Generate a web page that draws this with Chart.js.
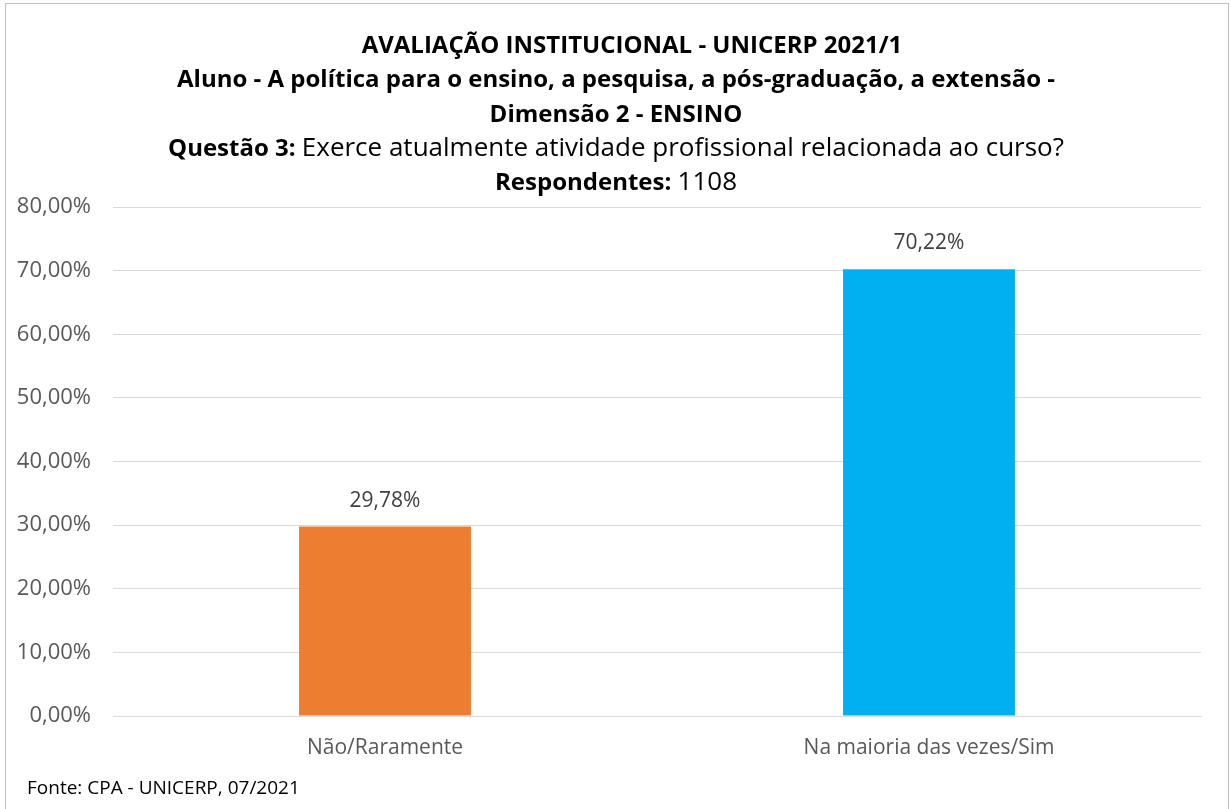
<!DOCTYPE html>
<html>
<head>
<meta charset="utf-8">
<script src="https://cdn.jsdelivr.net/npm/chart.js@4"></script>
<style>
  html, body { margin: 0; padding: 0; background: #fff; }
  #wrap { width: 1231px; height: 809px; position: relative; }
</style>
</head>
<body>
<div id="wrap"><canvas id="chart" width="1231" height="809"></canvas></div>
<script>
// data
const categories = ['Não/Raramente', 'Na maioria das vezes/Sim'];
const values = [29.78, 70.22];
const barColors = ['#ED7D31', '#00B0F0'];
const yTicks = [0, 10, 20, 30, 40, 50, 60, 70, 80];

const titleLines = [
    [{ t: 'AVALIAÇÃO INSTITUCIONAL - UNICERP 2021/1', b: true }],
    [{ t: 'Aluno - A política para o ensino, a pesquisa, a pós-graduação, a extensão -', b: true }],
    [{ t: 'Dimensão 2 - ENSINO', b: true }],
    [{ t: 'Questão 3: ', b: true }, { t: 'Exerce atualmente atividade profissional relacionada ao curso?', b: false }],
    [{ t: 'Respondentes: ', b: true }, { t: '1108', b: false }]
];
const footerText = 'Fonte: CPA - UNICERP, 07/2021';

const FONT = "'Open Sans', 'Noto Sans', sans-serif";
const fmt = v => v.toFixed(2).replace('.', ',') + '%';
const partFont = p => p.b ? 'bold 24px ' + FONT : '26px ' + FONT;

// border, title, footer, value labels
const decorPlugin = {
    id: 'decor',
    beforeDraw(chart) {
        const ctx = chart.ctx;
        ctx.save();
        ctx.strokeStyle = '#bfbfbf';
        ctx.lineWidth = 1;
        ctx.strokeRect(5.5, 3.5, 1223, 830);
        ctx.restore();
    },
    afterDraw(chart) {
        const ctx = chart.ctx;
        ctx.save();
        ctx.fillStyle = '#000';
        ctx.textBaseline = 'middle';
        const cx = 616;
        const ys = [46, 80, 115, 149, 183];
        titleLines.forEach((parts, i) => {
            let total = 0;
            parts.forEach(p => {
                ctx.font = partFont(p);
                p.w = ctx.measureText(p.t).width;
                total += p.w;
            });
            let x = (i === 0 ? cx + 16 : cx) - total / 2;
            ctx.textAlign = 'left';
            parts.forEach(p => {
                ctx.font = partFont(p);
                ctx.fillText(p.t, x, ys[i]);
                x += p.w;
            });
        });
        ctx.font = '19px ' + FONT;
        ctx.fillText(footerText, 27, 789);

        const meta = chart.getDatasetMeta(0);
        ctx.font = '21px ' + FONT;
        ctx.fillStyle = '#404040';
        ctx.textAlign = 'center';
        meta.data.forEach((bar, i) => {
            ctx.fillText(fmt(values[i]), bar.x, bar.y - 26);
        });
        ctx.restore();
    }
};

new Chart(document.getElementById('chart'), {
    type: 'bar',
    data: {
        labels: categories,
        datasets: [{
            data: values,
            backgroundColor: barColors,
            borderWidth: 0,
            barPercentage: 0.316,
            categoryPercentage: 1.0
        }]
    },
    options: {
        responsive: false,
        animation: false,
        layout: { padding: { top: 207, right: 30, left: 0, bottom: 0 } },
        plugins: { legend: { display: false }, tooltip: { enabled: false }, title: { display: false } },
        scales: {
            x: {
                grid: { display: false, drawTicks: false },
                border: { display: true, color: '#d9d9d9', width: 1 },
                ticks: { color: '#595959', font: { family: FONT, size: 21 }, padding: 19 },
                afterFit(s) { s.height = 93; }
            },
            y: {
                min: 0,
                max: 80,
                afterBuildTicks(s) { s.ticks = yTicks.map(v => ({ value: v })); },
                grid: { color: '#d9d9d9', drawTicks: false },
                border: { display: false },
                ticks: {
                    color: '#595959',
                    font: { family: FONT, size: 22 },
                    padding: 22,
                    callback: v => fmt(v)
                },
                afterFit(s) { s.width = 113; }
            }
        }
    },
    plugins: [decorPlugin]
});
</script>
</body>
</html>
